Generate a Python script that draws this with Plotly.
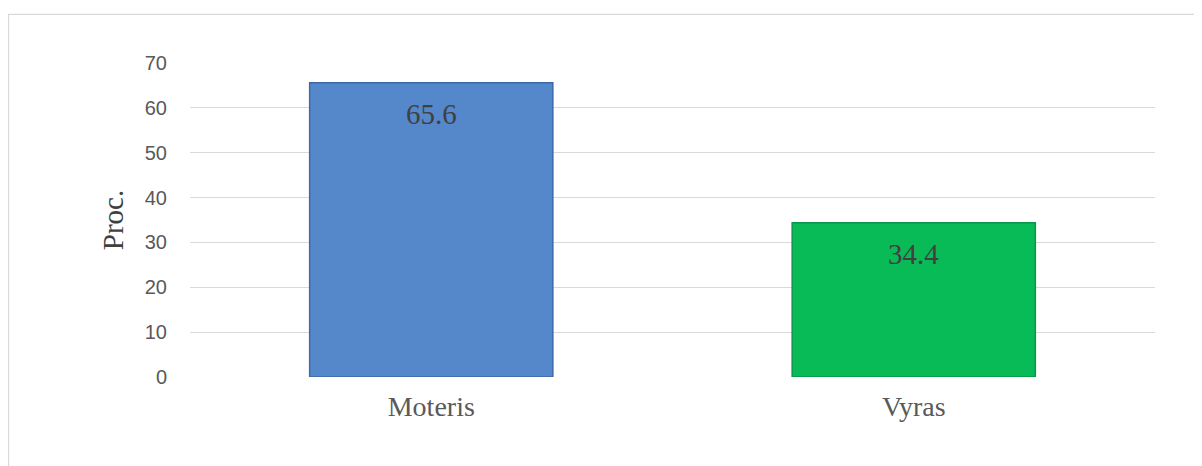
import plotly.graph_objects as go

categories = ["Moteris", "Vyras"]
values = [65.6, 34.4]
labels = ["65.6", "34.4"]
bar_colors = ["#5587CB", "#08BB56"]
line_colors = ["#3B69A8", "#07974A"]
y_ticks = [0, 10, 20, 30, 40, 50, 60, 70]

fig = go.Figure()
fig.add_trace(go.Bar(
    x=categories, y=values,
    marker=dict(color=bar_colors, line=dict(color=line_colors, width=1.5)),
    hoverinfo="skip",
))

for c, v, t in zip(categories, values, labels):
    fig.add_annotation(x=c, y=v, text=t, showarrow=False, yanchor="top", yshift=-13,
                       font=dict(family="Liberation Serif, Times New Roman, serif", size=29, color="#404040"))

# page body has an 8px margin, so figure coordinates = window coordinates - 8
L, R, T, B = 182, 55, 54.7, 97.3
W, H = 1202, 466
pw, ph = W - L - R, H - T - B
fig.add_shape(type="rect", xref="paper", yref="paper",
              x0=(0.5 - L) / pw, x1=(1230 - L) / pw,
              y0=(H - B - 490) / ph, y1=(H - B - 6) / ph,
              line=dict(color="#D9D9D9", width=1.3), fillcolor="rgba(0,0,0,0)", layer="below")

fig.update_layout(
    width=W, height=H,
    margin=dict(l=L, r=R, t=T, b=B),
    paper_bgcolor="white", plot_bgcolor="white",
    bargap=0.496,
    showlegend=False,
    xaxis=dict(showgrid=False, showline=False, ticks="", ticklabelstandoff=10,
               tickfont=dict(family="Liberation Serif, Times New Roman, serif", size=28, color="#595959")),
    yaxis=dict(range=[0, 70], tickvals=y_ticks, showgrid=True, gridcolor="#D9D9D9", gridwidth=1.3,
               zeroline=False, showline=False, ticks="", ticklabelstandoff=22,
               tickfont=dict(family="Liberation Sans, Arial, sans-serif", size=20, color="#595959"),
               title=dict(text="Proc.", standoff=12,
                          font=dict(family="Liberation Serif, Times New Roman, serif", size=29, color="#404040"))),
)

fig.write_html("out.html")
